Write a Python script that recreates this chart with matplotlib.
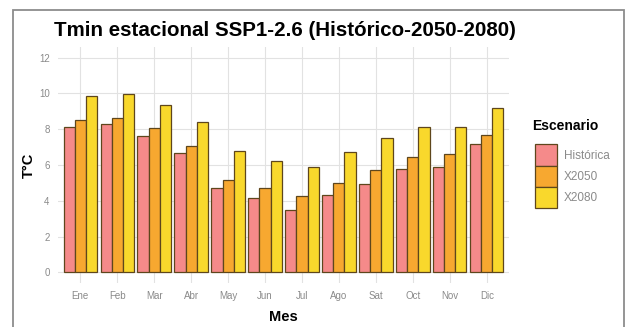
import numpy as np
import matplotlib
matplotlib.use("Agg")
import matplotlib.pyplot as plt
from matplotlib.patches import Rectangle, Patch

plt.rcParams["font.family"] = ["Liberation Sans", "DejaVu Sans"]

meses = ["Ene", "Feb", "Mar", "Abr", "May", "Jun", "Jul", "Ago", "Sat", "Oct", "Nov", "Dic"]
historica = [8.15, 8.3, 7.6, 6.65, 4.7, 4.15, 3.5, 4.35, 4.95, 5.8, 5.9, 7.15]
x2050 = [8.5, 8.65, 8.05, 7.05, 5.15, 4.7, 4.25, 5.0, 5.7, 6.45, 6.6, 7.7]
x2080 = [9.85, 9.95, 9.35, 8.4, 6.8, 6.25, 5.9, 6.7, 7.5, 8.1, 8.1, 9.2]
escenarios = ["Histórica", "X2050", "X2080"]
colores = ["#F58A8A", "#F7A830", "#F9D82C"]
borde = "#5e461c"

W, H = 627, 327
fig = plt.figure(figsize=(W / 100, H / 100), dpi=100)
fig.patch.set_facecolor("white")

# panel in pixel coords
px0, px1, py0, py1 = 58, 509, 47, 283
ax = fig.add_axes([px0 / W, 1 - py1 / H, (px1 - px0) / W, (py1 - py0) / H])

x = np.arange(len(meses))
bw = 0.3
for i, (vals, col) in enumerate(zip([historica, x2050, x2080], colores)):
    ax.bar(x + (i - 1) * bw, vals, width=bw, color=col, edgecolor=borde,
           linewidth=0.9, zorder=3)

ax.set_xlim(-0.6, len(meses) - 0.4)
ax.set_ylim(-0.6, 12.6)
ax.set_yticks([0, 2, 4, 6, 8, 10, 12])
ax.set_xticks(x)
ax.set_xticklabels(meses)
ax.grid(True, color="#e2e2e2", linewidth=0.8, zorder=0)
for s in ax.spines.values():
    s.set_visible(False)
ax.tick_params(length=0, labelsize=7, labelcolor="#8a8a8a", pad=6)
ax.set_xlabel("Mes", fontsize=10.5, fontweight="bold", labelpad=6)
ax.set_ylabel("T°C", fontsize=10.5, fontweight="bold", labelpad=2)

fig.text(285 / W, 1 - 30 / H, "Tmin estacional SSP1-2.6 (Histórico-2050-2080)",
         ha="center", va="center", fontsize=14.8, fontweight="bold")

# legend title placed separately for a bit more room above the keys
fig.text(532 / W, 1 - 126 / H, "Escenario", ha="left", va="center",
         fontsize=10, fontweight="bold")
handles = [Patch(facecolor=c, edgecolor=borde, linewidth=0.9) for c in colores]
leg = fig.legend(handles, escenarios, loc="upper left",
                 bbox_to_anchor=(527 / W, 1 - 136 / H), frameon=False,
                 fontsize=8.5, handlelength=1.85,
                 handleheight=2.4, labelspacing=0.0, handletextpad=0.6,
                 borderpad=0.2)
for t in leg.get_texts():
    t.set_color("#8a8a8a")

# outer grey frame
fig.patches.append(Rectangle((13 / W, -0.05), (624 - 13) / W, 1.05 - 10 / H,
                             transform=fig.transFigure, fill=False,
                             edgecolor="#8c8c8c", linewidth=1.3))

fig.savefig("out.png", dpi=100)
